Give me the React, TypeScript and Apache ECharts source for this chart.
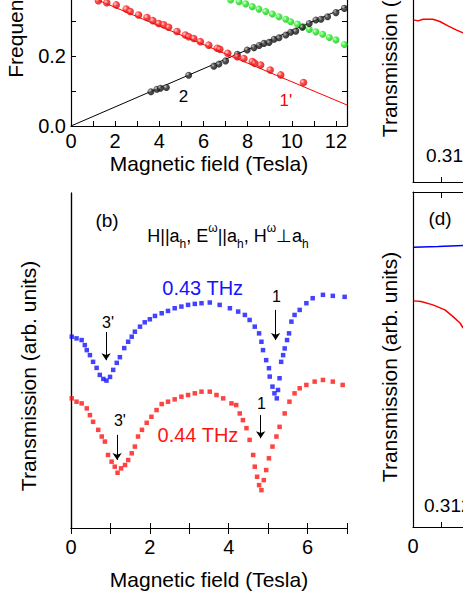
import React, { useEffect, useRef } from "react";
import * as echarts from "echarts";

const FONT = '"Liberation Sans", Arial, Helvetica, sans-serif';
// the chart canvas extends above and to the right of the visible window
const OY = 170;
const W = 760;
const H = 599 + OY;

// ---------- Panel (a): resonance frequencies vs field ----------
const fit2: number[][] = [[0, 0], [12.5, 0.341]];
const fit1p: number[][] = [[0, 0.392], [12.5, 0.06]];
const black2: number[][] = [
  [3.62, 0.098], [3.89, 0.105], [4.05, 0.108], [4.32, 0.11], [5.33, 0.145], [6.47, 0.171],
  [6.7, 0.177], [7.0, 0.186], [7.53, 0.205], [7.98, 0.217], [8.29, 0.224], [8.52, 0.23],
  [8.74, 0.236], [8.97, 0.239], [9.2, 0.248], [9.42, 0.252], [9.73, 0.26], [9.95, 0.268],
  [10.18, 0.271], [10.48, 0.282], [10.79, 0.293], [11.09, 0.303], [11.32, 0.305],
  [11.62, 0.312], [12.0, 0.324], [12.38, 0.336],
];
const red1p: number[][] = [
  [1.24, 0.358], [1.62, 0.352], [2.05, 0.346], [2.5, 0.334], [2.68, 0.327], [3.06, 0.317],
  [3.44, 0.31], [3.71, 0.301], [3.97, 0.293], [4.2, 0.289], [4.42, 0.282], [4.8, 0.27],
  [5.18, 0.26], [5.33, 0.255], [5.56, 0.25], [5.86, 0.241], [6.24, 0.231], [6.62, 0.222],
  [6.74, 0.219], [7.1, 0.208], [7.53, 0.198], [7.83, 0.193], [8.21, 0.184], [8.32, 0.179],
  [8.59, 0.174], [9.02, 0.16], [9.5, 0.146], [10.53, 0.124],
];
const greenMode: number[][] = [
  [7.23, 0.36], [7.61, 0.355], [7.91, 0.349], [8.21, 0.341], [8.51, 0.334], [8.82, 0.327],
  [9.12, 0.32], [9.42, 0.312], [9.73, 0.305], [9.95, 0.298], [10.26, 0.291], [10.49, 0.284],
  [10.79, 0.276], [11.09, 0.269], [11.4, 0.262], [11.7, 0.253], [12.0, 0.246], [12.38, 0.233],
];

// ---------- Panel (b): transmission spectra ----------
const blue043: number[][] = [
  [0.02, 0.571], [0.14, 0.566], [0.27, 0.561], [0.35, 0.546], [0.4, 0.531], [0.48, 0.516],
  [0.56, 0.496], [0.65, 0.478], [0.73, 0.457], [0.82, 0.445], [0.9, 0.44], [0.99, 0.451],
  [1.07, 0.472], [1.16, 0.493], [1.24, 0.51], [1.35, 0.537], [1.45, 0.556], [1.54, 0.571],
  [1.62, 0.586], [1.75, 0.601], [1.87, 0.614], [2.0, 0.623], [2.13, 0.633], [2.3, 0.641],
  [2.46, 0.648], [2.63, 0.656], [2.8, 0.661], [2.97, 0.666], [3.14, 0.669], [3.31, 0.671],
  [3.52, 0.673], [3.77, 0.666], [4.03, 0.656], [4.24, 0.646], [4.41, 0.636], [4.53, 0.621],
  [4.66, 0.601], [4.77, 0.581], [4.83, 0.556], [4.87, 0.531], [4.95, 0.501], [5.02, 0.477],
  [5.04, 0.452], [5.11, 0.422], [5.16, 0.402], [5.22, 0.387], [5.25, 0.412], [5.29, 0.447],
  [5.33, 0.496], [5.38, 0.516], [5.42, 0.536], [5.48, 0.561], [5.53, 0.581], [5.59, 0.616],
  [5.67, 0.636], [5.8, 0.651], [5.97, 0.671], [6.13, 0.686], [6.39, 0.696], [6.64, 0.693],
  [6.94, 0.69],
];
const red044: number[][] = [
  [0.02, 0.387], [0.14, 0.377], [0.27, 0.372], [0.4, 0.357], [0.48, 0.337], [0.56, 0.317],
  [0.69, 0.293], [0.78, 0.273], [0.86, 0.258], [0.94, 0.218], [1.03, 0.198], [1.11, 0.183],
  [1.18, 0.165], [1.27, 0.178], [1.37, 0.188], [1.45, 0.203], [1.54, 0.223], [1.62, 0.243],
  [1.7, 0.273], [1.8, 0.293], [1.92, 0.314], [2.04, 0.332], [2.17, 0.352], [2.3, 0.37],
  [2.46, 0.377], [2.63, 0.384], [2.8, 0.392], [2.97, 0.397], [3.14, 0.402], [3.31, 0.407],
  [3.52, 0.407], [3.69, 0.397], [3.86, 0.387], [4.07, 0.372], [4.19, 0.367], [4.28, 0.342],
  [4.36, 0.322], [4.45, 0.298], [4.53, 0.263], [4.62, 0.218], [4.66, 0.183], [4.72, 0.153],
  [4.77, 0.128], [4.83, 0.113], [4.89, 0.143], [4.95, 0.173], [5.02, 0.208], [5.11, 0.243],
  [5.21, 0.273], [5.29, 0.302], [5.42, 0.342], [5.54, 0.377], [5.67, 0.402], [5.8, 0.417],
  [5.97, 0.427], [6.18, 0.437], [6.39, 0.442], [6.64, 0.437], [6.89, 0.427],
];
// arrows: [field, from, to], labels: [field, level, text]
const blueArrows: number[][] = [[0.89, 0.585, 0.501], [5.19, 0.651, 0.561]];
const blueLabels: (number | string)[][] = [[0.94, 0.612, "3'"], [5.21, 0.69, "1"]];
const redArrows: number[][] = [[1.17, 0.278, 0.203], [4.81, 0.337, 0.268]];
const redLabels: (number | string)[][] = [[1.24, 0.322, "3'"], [4.83, 0.372, "1"]];

// ---------- Panels (c), (d): partially visible ----------
const cRed: number[][] = [
  [0.02, 0.484], [0.18, 0.481], [0.36, 0.486], [0.71, 0.486], [0.96, 0.479], [1.25, 0.466],
  [1.54, 0.454], [1.79, 0.445],
];
const dBlue: number[][] = [[0.02, 0.835], [0.9, 0.837], [1.79, 0.84]];
const dRed: number[][] = [
  [0.02, 0.675], [0.29, 0.673], [0.71, 0.663], [1.14, 0.648], [1.43, 0.628], [1.68, 0.609],
  [1.79, 0.594],
];

const sphere = (light: string, mid: string, dark: string) => ({
  type: "radial", x: 0.35, y: 0.35, r: 0.75,
  colorStops: [
    { offset: 0, color: light },
    { offset: 0.4, color: mid },
    { offset: 1, color: dark },
  ],
});

const axLine = { show: true, lineStyle: { color: "#000", width: 1.2 } };
const tickIn = (len: number) => ({ show: true, inside: true, length: len, lineStyle: { color: "#000", width: 1 } });
const evenLabel = (margin: number) => ({
  show: true, color: "#000", fontSize: 20, fontFamily: FONT, margin,
  formatter: (v: number) => (Math.abs(v % 2) < 1e-9 ? String(v) : ""),
});
const vText = (x: number, y: number, text: string) => ({
  type: "text", x, y: y + OY, rotation: Math.PI / 2,
  style: { text, font: `21px ${FONT}`, fill: "#000", align: "center", verticalAlign: "middle" },
});
const hText = (x: number, y: number, text: string, align: string) => ({
  type: "text", x, y: y + OY,
  style: { text, font: `19px ${FONT}`, fill: "#000", align, verticalAlign: "middle" },
});

export default function App() {
  const ref = useRef<HTMLDivElement>(null);
  useEffect(() => {
    document.body.style.margin = "0";
    const chart = echarts.init(ref.current!, null, { renderer: "svg" });
    const arrowML = (arr: number[][]) => ({
      silent: true, symbol: ["none", "arrow"], symbolSize: 7,
      lineStyle: { color: "#000", width: 1, type: "solid" },
      label: { show: false }, emphasis: { disabled: true },
      data: arr.map((a) => [{ coord: [a[0], a[1]] }, { coord: [a[0], a[2]] }]),
    });
    const textData = (arr: (number | string)[][]) =>
      arr.map((a) => ({ name: a[2] as string, coord: [a[0], a[1]] }));
    const textMP = (data: any[], color: string, size: number) => ({
      silent: true, symbol: "circle", symbolSize: 0,
      label: { show: true, position: "inside", color, fontSize: size, fontFamily: FONT, formatter: (p: any) => p.name },
      data,
    });
    chart.setOption({
      animation: false,
      backgroundColor: "#fff",
      textStyle: { fontFamily: FONT },
      grid: [
        { left: 71, top: -49 + OY, width: 276, height: 175 },
        { left: 71, top: 193 + OY, width: 276, height: 335 },
        { left: 413, top: -153 + OY, width: 280, height: 335 },
        { left: 413, top: 192 + OY, width: 280, height: 335 },
      ],
      xAxis: [
        { gridIndex: 0, type: "value", min: 0, max: 12.5, interval: 1, position: "bottom",
          axisLine: axLine, axisTick: tickIn(5), axisLabel: evenLabel(5), splitLine: { show: false },
          name: "Magnetic field (Tesla)", nameLocation: "middle", nameGap: 27,
          nameTextStyle: { fontSize: 21, color: "#000", fontFamily: FONT } },
        { gridIndex: 1, type: "value", min: 0, max: 7, interval: 1, position: "bottom",
          axisLine: axLine, axisTick: tickIn(5), axisLabel: evenLabel(9), splitLine: { show: false },
          name: "Magnetic field (Tesla)", nameLocation: "middle", nameGap: 41,
          nameTextStyle: { fontSize: 21, color: "#000", fontFamily: FONT } },
        { gridIndex: 1, type: "value", min: 0, max: 7, interval: 1, position: "top",
          axisLine: axLine, axisTick: tickIn(6), axisLabel: { show: false }, splitLine: { show: false } },
        { gridIndex: 2, type: "value", min: 0, max: 10, interval: 1, position: "bottom",
          axisLine: axLine, axisTick: tickIn(5), axisLabel: { show: false }, splitLine: { show: false } },
        { gridIndex: 3, type: "value", min: 0, max: 10, interval: 1, position: "bottom",
          axisLine: axLine, axisTick: tickIn(5), axisLabel: evenLabel(9), splitLine: { show: false } },
        { gridIndex: 3, type: "value", min: 0, max: 10, interval: 1, position: "top",
          axisLine: axLine, axisTick: tickIn(6), axisLabel: { show: false }, splitLine: { show: false } },
      ],
      yAxis: [
        { gridIndex: 0, type: "value", min: 0, max: 0.5, interval: 0.1, position: "left",
          axisLine: axLine, axisTick: tickIn(5), splitLine: { show: false },
          axisLabel: { show: true, color: "#000", fontSize: 20, fontFamily: FONT, margin: 5,
            formatter: (v: number) => (Math.round(v * 10) % 2 === 0 ? v.toFixed(1) : "") } },
        { gridIndex: 0, type: "value", min: 0, max: 0.5, interval: 0.1, position: "right",
          axisLine: axLine, axisTick: tickIn(5), axisLabel: { show: false }, splitLine: { show: false } },
        { gridIndex: 1, type: "value", min: 0, max: 1, position: "left",
          axisLine: axLine, axisTick: { show: false }, axisLabel: { show: false }, splitLine: { show: false } },
        { gridIndex: 1, type: "value", min: 0, max: 1, position: "right",
          axisLine: axLine, axisTick: { show: false }, axisLabel: { show: false }, splitLine: { show: false } },
        { gridIndex: 2, type: "value", min: 0, max: 1, position: "left",
          axisLine: axLine, axisTick: { show: false }, axisLabel: { show: false }, splitLine: { show: false } },
        { gridIndex: 3, type: "value", min: 0, max: 1, position: "left",
          axisLine: axLine, axisTick: { show: false }, axisLabel: { show: false }, splitLine: { show: false } },
      ],
      series: [
        { type: "line", xAxisIndex: 0, yAxisIndex: 0, data: fit2, symbol: "none",
          lineStyle: { color: "#000", width: 1 }, z: 1 },
        { type: "line", xAxisIndex: 0, yAxisIndex: 0, data: fit1p, symbol: "none",
          lineStyle: { color: "#ff0000", width: 1 }, z: 1 },
        { type: "scatter", xAxisIndex: 0, yAxisIndex: 0, data: greenMode, symbolSize: 7,
          itemStyle: { color: sphere("#d8ffd8", "#22f022", "#10b010") }, z: 3 },
        { type: "scatter", xAxisIndex: 0, yAxisIndex: 0, data: black2, symbolSize: 7,
          itemStyle: { color: sphere("#c8c8c8", "#282828", "#000") }, z: 3,
          markPoint: textMP(textData([[5.09, 0.083, "2"]]), "#000", 17) },
        { type: "scatter", xAxisIndex: 0, yAxisIndex: 0, data: red1p, symbolSize: 7.5,
          itemStyle: { color: sphere("#ffd0d0", "#ff1a1a", "#c00000") }, z: 3,
          markPoint: textMP(textData([[9.73, 0.074, "1'"]]), "#ff0000", 17) },
        { type: "scatter", xAxisIndex: 1, yAxisIndex: 2, data: blue043, symbol: "rect", symbolSize: 4.5,
          itemStyle: { color: "#1414ff" },
          markLine: arrowML(blueArrows),
          markPoint: textMP([...textData(blueLabels),
            { name: "0.43 THz", coord: [3.34, 0.716], label: { color: "#1414ff", fontSize: 20 } }], "#000", 16) },
        { type: "scatter", xAxisIndex: 1, yAxisIndex: 2, data: red044, symbol: "rect", symbolSize: 4.5,
          itemStyle: { color: "#ff1414" },
          markLine: arrowML(redArrows),
          markPoint: textMP([...textData(redLabels),
            { name: "0.44 THz", coord: [3.22, 0.278], label: { color: "#ff1414", fontSize: 20 } }], "#000", 16) },
        { type: "line", xAxisIndex: 3, yAxisIndex: 4, data: cRed, symbol: "none",
          lineStyle: { color: "#ff0000", width: 1.5 } },
        { type: "line", xAxisIndex: 4, yAxisIndex: 5, data: dBlue, symbol: "none",
          lineStyle: { color: "#0000ff", width: 1.5 } },
        { type: "line", xAxisIndex: 4, yAxisIndex: 5, data: dRed, symbol: "none",
          lineStyle: { color: "#ff0000", width: 1.5 } },
      ],
      graphic: [
        vText(15, -1, "Frequency (THz)"),
        vText(28, 376, "Transmission (arb. units)"),
        vText(389, 22, "Transmission (arb. units)"),
        vText(389, 367, "Transmission (arb. units)"),
        hText(107, 220, "(b)", "center"),
        hText(440, 218, "(d)", "center"),
        hText(426, 155, "0.31 THz", "left"),
        hText(424, 505, "0.312 THz", "left"),
        { type: "text", x: 228, y: 236 + OY,
          style: {
            text: "{n|H||a}{s|h}{n|, E}{p|ω}{n|||a}{s|h}{n|, H}{p|ω}{n|⊥a}{s|h}",
            align: "center", verticalAlign: "middle", fill: "#000",
            rich: {
              n: { fontSize: 18, lineHeight: 28, fontFamily: FONT, fill: "#000", verticalAlign: "middle" },
              s: { fontSize: 12, lineHeight: 12, fontFamily: FONT, fill: "#000", verticalAlign: "bottom" },
              p: { fontSize: 12, lineHeight: 20, fontFamily: FONT, fill: "#000", verticalAlign: "top" },
            },
          } },
      ],
    });
    return () => chart.dispose();
  }, []);
  return <div ref={ref} style={{ position: "fixed", left: 0, top: -OY, width: W, height: H }} />;
}
